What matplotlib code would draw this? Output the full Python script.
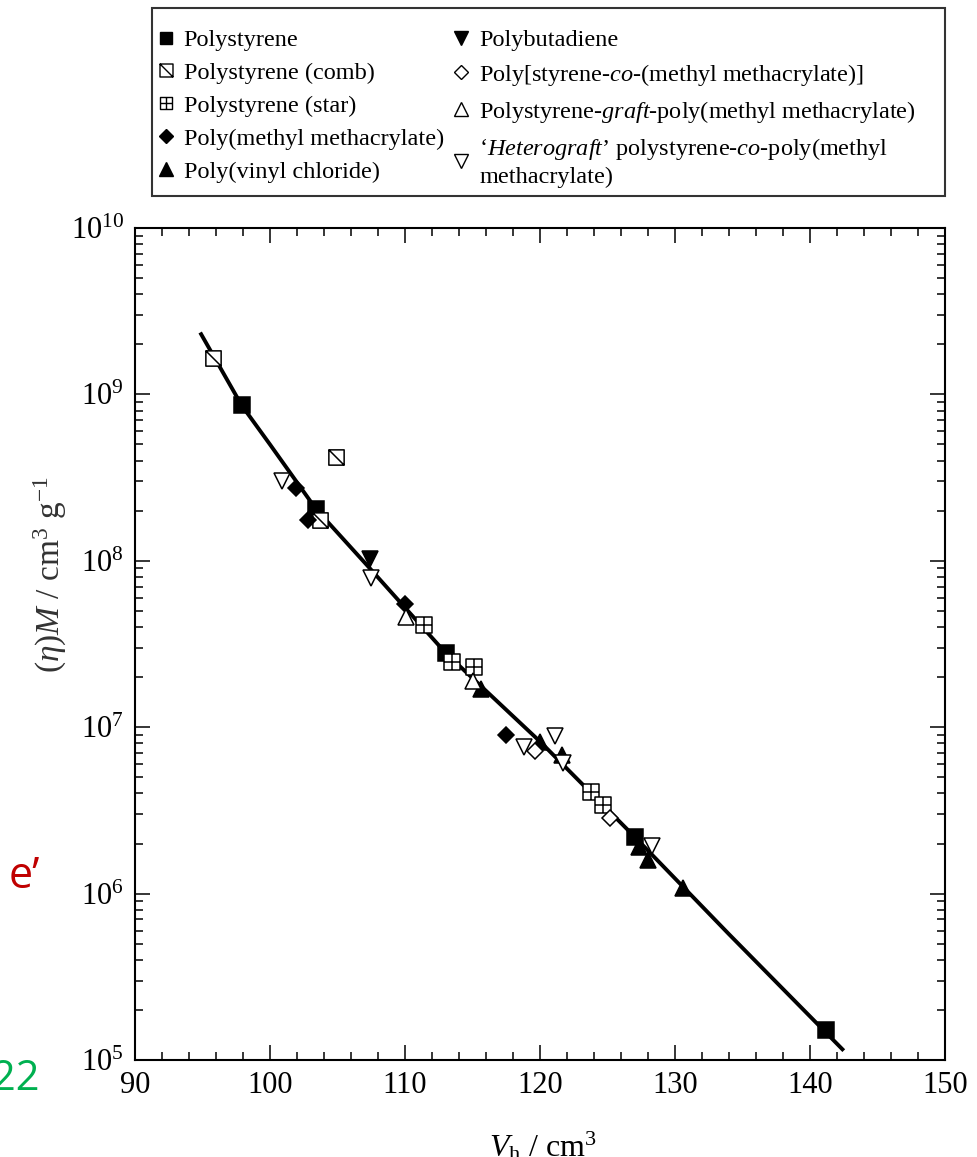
import numpy as np
import matplotlib.pyplot as plt
from matplotlib.path import Path
from matplotlib.lines import Line2D
from matplotlib.patches import Rectangle
from matplotlib.ticker import LogLocator, MultipleLocator, NullFormatter

plt.rcParams['font.family'] = ['Liberation Serif', 'DejaVu Serif']
plt.rcParams['mathtext.fontset'] = 'custom'
plt.rcParams['mathtext.rm'] = 'Liberation Serif'
plt.rcParams['mathtext.it'] = 'Liberation Serif:italic'
plt.rcParams['mathtext.bf'] = 'Liberation Serif:bold'

# values: V_h (cm^3) vs (eta)M (cm^3 g^-1)
ps_V = [97.9, 103.4, 113.0, 127.0, 141.2]
ps_y = [8.6e8, 2.05e8, 2.8e7, 2.2e6, 1.52e5]
comb_V = [95.8, 103.7, 104.9]
comb_y = [1.65e9, 1.75e8, 4.2e8]
star_V = [111.4, 113.5, 115.1, 123.8, 124.7]
star_y = [4.1e7, 2.45e7, 2.3e7, 4.1e6, 3.4e6]
pmma_V = [101.9, 102.8, 110.0, 117.5]
pmma_y = [2.75e8, 1.75e8, 5.5e7, 9.0e6]
pvc_V = [115.6, 120.0, 121.6, 127.3, 128.0, 130.6]
pvc_y = [1.7e7, 8.2e6, 6.8e6, 1.9e6, 1.6e6, 1.08e6]
pb_V = [107.4]
pb_y = [1.03e8]
copoly_V = [119.6, 125.2]
copoly_y = [7.2e6, 2.85e6]
graft_V = [110.1, 115.0]
graft_y = [4.6e7, 1.9e7]
hetero_V = [100.9, 107.5, 118.8, 121.1, 121.7, 128.3]
hetero_y = [3.0e8, 7.9e7, 7.6e6, 8.8e6, 6.1e6, 1.92e6]

fit_V = [94.9, 97.9, 100.0, 103.4, 107.4, 113.0, 120.0, 127.0, 134.0, 142.4]
fit_y = [2.3e9, 8.6e8, 5.0e8, 2.05e8, 9.0e7, 2.8e7, 8.2e6, 2.2e6, 5.7e5, 1.16e5]

labels = [
    "Polystyrene",
    "Polystyrene (comb)",
    "Polystyrene (star)",
    "Poly(methyl methacrylate)",
    "Poly(vinyl chloride)",
    "Polybutadiene",
    r"Poly[styrene-$\mathit{co}$-(methyl methacrylate)]",
    r"Polystyrene-$\mathit{graft}$-poly(methyl methacrylate)",
    "\u2018" + r"$\mathit{Heterograft}$" + "\u2019" + r" polystyrene-$\mathit{co}$-poly(methyl"
    + "\nmethacrylate)",
]

# square with a diagonal, square with a cross
comb_marker = Path([(-1, -1), (1, -1), (1, 1), (-1, 1), (-1, -1), (-1, 1), (1, -1)],
                   [Path.MOVETO, Path.LINETO, Path.LINETO, Path.LINETO, Path.CLOSEPOLY,
                    Path.MOVETO, Path.LINETO])
star_marker = Path([(-1, -1), (1, -1), (1, 1), (-1, 1), (-1, -1), (-1, 0), (1, 0), (0, -1), (0, 1)],
                   [Path.MOVETO, Path.LINETO, Path.LINETO, Path.LINETO, Path.CLOSEPOLY,
                    Path.MOVETO, Path.LINETO, Path.MOVETO, Path.LINETO])

series = [
    (ps_V, ps_y, 's', 'black', 11),
    (comb_V, comb_y, comb_marker, 'white', 11),
    (star_V, star_y, star_marker, 'white', 11),
    (pmma_V, pmma_y, 'D', 'black', 8.5),
    (pvc_V, pvc_y, '^', 'black', 12),
    (pb_V, pb_y, 'v', 'black', 12),
    (copoly_V, copoly_y, 'D', 'white', 8.5),
    (graft_V, graft_y, '^', 'white', 12),
    (hetero_V, hetero_y, 'v', 'white', 12),
]

fig = plt.figure(figsize=(9.78, 11.57), dpi=100)
ax = fig.add_axes([135 / 978, 97 / 1157, 810 / 978, 832 / 1157])

ax.plot(fit_V, fit_y, color='black', lw=2.8, zorder=2)

handles = []
for V, y, m, fc, ms in series:
    ax.plot(V, y, ls='none', marker=m, ms=ms, mfc=fc, mec='black', mew=1.1, zorder=3)
    handles.append(Line2D([], [], ls='none', marker=m, ms=ms * 0.85, mfc=fc, mec='black', mew=1.0))

ax.set_yscale('log')
ax.set_xlim(90, 150)
ax.set_ylim(1e5, 1e10)
ax.xaxis.set_major_locator(MultipleLocator(10))
ax.xaxis.set_minor_locator(MultipleLocator(2))
ax.yaxis.set_major_locator(LogLocator(base=10, numticks=10))
ax.yaxis.set_minor_locator(LogLocator(base=10, subs=np.arange(2, 10), numticks=20))
ax.yaxis.set_minor_formatter(NullFormatter())
ax.tick_params(which='both', direction='in', top=True, right=True, width=1.1, labelsize=22)
ax.tick_params(which='major', length=11, pad=8)
ax.tick_params(which='minor', length=6)
for s in ax.spines.values():
    s.set_linewidth(1.5)

fig.text(50 / 978, 1 - 575 / 1157, r'$(\eta)M$ / cm$^3$ g$^{-1}$', rotation=90,
         ha='center', va='center', fontsize=24, color='#333333')
fig.text(543 / 978, 1 - 1130 / 1157, r'$V_{\mathrm{h}}$ / cm$^3$', ha='center', va='top',
         fontsize=23)

# legend box drawn separately so it matches the frame of the original
fig.patches.append(Rectangle((152 / 978, 1 - 196 / 1157), 793 / 978, 188 / 1157,
                             transform=fig.transFigure, fill=False, ec='#333333', lw=1.5))
leg = fig.legend(handles, labels, ncol=2, loc='upper left',
                 bbox_to_anchor=(157 / 978, 1 - 29 / 1157),
                 borderaxespad=0, borderpad=0, fontsize=17.5, frameon=False,
                 handlelength=0.7, handletextpad=0.4, labelspacing=0.45,
                 columnspacing=0.35)
leg.get_texts()[-1].set_linespacing(1.3)

# stray annotation fragments at the left edge
fig.text(40 / 978, 1 - 888 / 1157, 'e\u2019', ha='right', va='baseline', color='#c00000',
         fontsize=31, family='Open Sans')
fig.text(40 / 978, 1 - 1090 / 1157, '22', ha='right', va='baseline', color='#00b050',
         fontsize=30, family='Open Sans')

fig.savefig('out.png', dpi=100)
